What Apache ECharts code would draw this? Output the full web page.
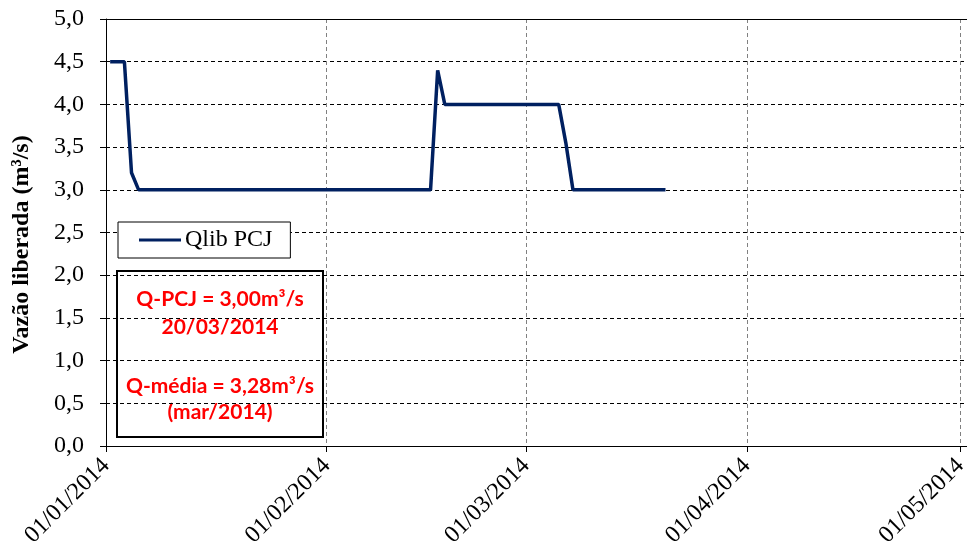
<!DOCTYPE html>
<html>
<head>
<meta charset="utf-8">
<script src="https://cdn.jsdelivr.net/npm/echarts@6/dist/echarts.min.js"></script>
<style>
  html, body { margin: 0; padding: 0; background: #fff; }
  #main { width: 971px; height: 560px; }
</style>
</head>
<body>
<div id="main"></div>
<script>
var myChart = echarts.init(document.getElementById('main'));

// daily release, Qlib PCJ (m³/s)
var dates = [
    '2014-01-01', '2014-01-02', '2014-01-03', '2014-01-04', '2014-01-05', '2014-01-06', '2014-01-07',
    '2014-01-08', '2014-01-09', '2014-01-10', '2014-01-11', '2014-01-12', '2014-01-13', '2014-01-14',
    '2014-01-15', '2014-01-16', '2014-01-17', '2014-01-18', '2014-01-19', '2014-01-20', '2014-01-21',
    '2014-01-22', '2014-01-23', '2014-01-24', '2014-01-25', '2014-01-26', '2014-01-27', '2014-01-28',
    '2014-01-29', '2014-01-30', '2014-01-31',
    '2014-02-01', '2014-02-02', '2014-02-03', '2014-02-04', '2014-02-05', '2014-02-06', '2014-02-07',
    '2014-02-08', '2014-02-09', '2014-02-10', '2014-02-11', '2014-02-12', '2014-02-13', '2014-02-14',
    '2014-02-15', '2014-02-16', '2014-02-17', '2014-02-18', '2014-02-19', '2014-02-20', '2014-02-21',
    '2014-02-22', '2014-02-23', '2014-02-24', '2014-02-25', '2014-02-26', '2014-02-27', '2014-02-28',
    '2014-03-01', '2014-03-02', '2014-03-03', '2014-03-04', '2014-03-05', '2014-03-06', '2014-03-07',
    '2014-03-08', '2014-03-09', '2014-03-10', '2014-03-11', '2014-03-12', '2014-03-13', '2014-03-14',
    '2014-03-15', '2014-03-16', '2014-03-17', '2014-03-18', '2014-03-19', '2014-03-20'
];
var qlib = [
    4.5, 4.5, 4.5, 3.2, 3.0, 3.0, 3.0,
    3.0, 3.0, 3.0, 3.0, 3.0, 3.0, 3.0,
    3.0, 3.0, 3.0, 3.0, 3.0, 3.0, 3.0,
    3.0, 3.0, 3.0, 3.0, 3.0, 3.0, 3.0,
    3.0, 3.0, 3.0,
    3.0, 3.0, 3.0, 3.0, 3.0, 3.0, 3.0,
    3.0, 3.0, 3.0, 3.0, 3.0, 3.0, 3.0,
    3.0, 4.4, 4.0, 4.0, 4.0, 4.0, 4.0,
    4.0, 4.0, 4.0, 4.0, 4.0, 4.0, 4.0,
    4.0, 4.0, 4.0, 4.0, 4.0, 3.55, 3.0,
    3.0, 3.0, 3.0, 3.0, 3.0, 3.0, 3.0,
    3.0, 3.0, 3.0, 3.0, 3.0, 3.0
];
var monthTicks = ['2014-01-01', '2014-02-01', '2014-03-01', '2014-04-01', '2014-05-01'];
var noteLines = ['Q-PCJ = 3,00m³/s', '20/03/2014', 'Q-média = 3,28m³/s', '(mar/2014)'];

function toTime(s) {
    var p = s.split('-');
    return new Date(+p[0], +p[1] - 1, +p[2]).getTime();
}
var tickValues = monthTicks.map(toTime);
var seriesData = dates.map(function (d, i) {
    // Excel date axis puts each day in the middle of its slot
    return [toTime(d) + 14 * 3600 * 1000, qlib[i]];
});

var serif = '"Liberation Serif", "Times New Roman", serif';
var noteFont = 'bold 21px Lato, "Open Sans", sans-serif';
var xMax = toTime('2014-05-02') - 3 * 3600 * 1000;

option = {
    backgroundColor: '#fff',
    animation: false,
    grid: {
        left: 106,
        right: 0,
        top: 19,
        bottom: 114
    },
    legend: {
        data: ['Qlib PCJ'],
        left: 118,
        top: 222,
        orient: 'vertical',
        icon: 'rect',
        padding: [6, 18, 6, 21],
        itemWidth: 42,
        itemHeight: 3,
        itemGap: 0,
        backgroundColor: '#fff',
        borderColor: '#000',
        borderWidth: 1,
        textStyle: {
            fontFamily: serif,
            fontSize: 24,
            color: '#000',
            padding: [0, 0, 0, -1]
        }
    },
    xAxis: [{
        type: 'time',
        min: toTime('2014-01-01'),
        max: xMax,
        axisLine: { show: true, lineStyle: { color: '#000', width: 1 } },
        axisTick: {
            show: true,
            length: 6,
            customValues: tickValues,
            lineStyle: { color: '#000' }
        },
        axisLabel: {
            customValues: tickValues,
            rotate: 45,
            margin: 16,
            fontFamily: serif,
            fontSize: 24,
            color: '#000',
            formatter: '{dd}/{MM}/{yyyy}'
        },
        splitLine: {
            show: true,
            lineStyle: { color: '#808080', type: [4, 3], width: 1 }
        },
        minorTick: { show: false }
    }, {
        type: 'time',
        position: 'top',
        min: toTime('2014-01-01'),
        max: xMax,
        axisLine: { show: true, lineStyle: { color: '#000', width: 1 } },
        axisTick: { show: false },
        axisLabel: { show: false },
        splitLine: { show: false }
    }],
    yAxis: {
        type: 'value',
        min: 0,
        max: 5,
        interval: 0.5,
        name: 'Vazão liberada (m³/s)',
        nameLocation: 'middle',
        nameGap: 72,
        nameTextStyle: {
            fontFamily: serif,
            fontSize: 24,
            fontWeight: 'bold',
            color: '#000',
            padding: [0, 24, 0, 0]
        },
        axisLine: { show: true, lineStyle: { color: '#000', width: 1 } },
        axisTick: { show: true, length: 6, lineStyle: { color: '#000' } },
        axisLabel: {
            margin: 22,
            fontFamily: serif,
            fontSize: 24,
            color: '#000',
            formatter: function (v) {
                return v.toFixed(1).replace('.', ',');
            }
        },
        splitLine: {
            show: true,
            lineStyle: { color: '#000', type: [4, 3], width: 1 }
        }
    },
    series: [{
        name: 'Qlib PCJ',
        type: 'line',
        symbol: 'none',
        lineStyle: { color: '#002060', width: 3.5 },
        itemStyle: { color: '#002060' },
        data: seriesData
    }],
    graphic: [{
        type: 'group',
        left: 116,
        top: 270,
        z: 100,
        children: [{
            type: 'rect',
            shape: { x: 0, y: 0, width: 206, height: 166 },
            style: { fill: '#fff', stroke: '#000', lineWidth: 2 }
        }, {
            type: 'text',
            x: 103, y: 28,
            style: { text: noteLines[0], fill: '#ff0000', font: noteFont, align: 'center', verticalAlign: 'middle' }
        }, {
            type: 'text',
            x: 103, y: 56,
            style: { text: noteLines[1], fill: '#ff0000', font: noteFont, align: 'center', verticalAlign: 'middle' }
        }, {
            type: 'text',
            x: 103, y: 115,
            style: { text: noteLines[2], fill: '#ff0000', font: noteFont, align: 'center', verticalAlign: 'middle' }
        }, {
            type: 'text',
            x: 103, y: 141,
            style: { text: noteLines[3], fill: '#ff0000', font: noteFont, align: 'center', verticalAlign: 'middle' }
        }]
    }]
};

myChart.setOption(option);
</script>
</body>
</html>
